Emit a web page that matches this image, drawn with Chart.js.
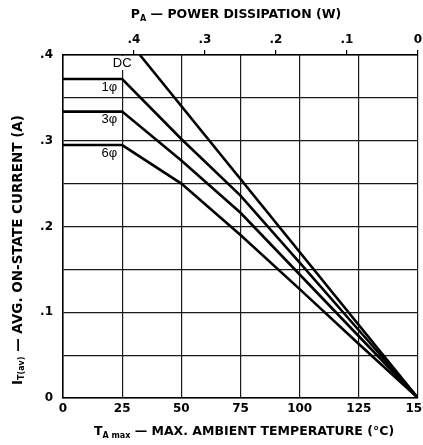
<!DOCTYPE html>
<html><head><meta charset="utf-8">
<script src="https://cdn.jsdelivr.net/npm/chart.js@4.4.1/dist/chart.umd.min.js"></script>
<style>html,body{margin:0;padding:0;background:#fff}#wrap{width:423px;height:445px}</style>
</head><body><div id="wrap"><canvas id="c" width="423" height="445"></canvas></div>
<script>
// ---- data ----
const seriesNames = ['DC', '1φ', '3φ', '6φ'];
const tempDC = [32.5, 150];
const currentDC = [0.4, 0];
const temps = [0, 25, 50, 75, 100, 125, 150];
const current1ph = [0.372, 0.372, 0.302, 0.236, 0.158, 0.079, 0];
const current3ph = [0.334, 0.334, 0.277, 0.216, 0.144, 0.072, 0];
const current6ph = [0.295, 0.295, 0.250, 0.190, 0.127, 0.063, 0];
const xTicks = [0, 25, 50, 75, 100, 125, 150];
const yTicks = [0, 0.05, 0.1, 0.15, 0.2, 0.25, 0.3, 0.35, 0.4];
const yTickLabels = ['0', '', '.1', '', '.2', '', '.3', '', '.4'];
const topTicks = [0.4, 0.3, 0.2, 0.1, 0];
const topTickLabels = ['.4', '.3', '.2', '.1', '0'];
const topTitle = [{t:'P'},{t:'A',sub:true},{t:' — POWER DISSIPATION (W)'}];
const xTitle = [{t:'T'},{t:'A max',sub:true},{t:' — MAX. AMBIENT TEMPERATURE (°C)'}];
const yTitle = [{t:'I'},{t:'T(av)',sub:true},{t:' — AVG. ON-STATE CURRENT (A)'}];

const FONT = '"DejaVu Sans", "Liberation Sans", sans-serif';
const LFONT = '"Liberation Sans", Arial, sans-serif';
const pts = (xs, ys) => xs.map((x, i) => ({x, y: ys[i]}));
const seriesData = [pts(tempDC, currentDC), pts(temps, current1ph), pts(temps, current3ph), pts(temps, current6ph)];

function drawRich(ctx, segs, x, y, rot, size) {
  ctx.save();
  ctx.translate(x, y);
  ctx.rotate(rot);
  const main = 'bold ' + size + 'px ' + FONT, sub = 'bold ' + Math.round(size * 0.6) + 'px ' + FONT;
  let w = 0;
  segs.forEach(s => { ctx.font = s.sub ? sub : main; w += ctx.measureText(s.t).width; });
  let cx = -w / 2;
  ctx.textBaseline = 'middle';
  ctx.textAlign = 'left';
  ctx.fillStyle = '#000';
  segs.forEach(s => {
    ctx.font = s.sub ? sub : main;
    ctx.fillText(s.t, cx, s.sub ? 4 : 0);
    cx += ctx.measureText(s.t).width;
  });
  ctx.restore();
}

const labelPlugin = {
  id: 'labels',
  afterDraw(chart) {
    const ctx = chart.ctx;
    const xs = chart.scales.x, ys = chart.scales.y;
    const x25 = xs.getPixelForValue(25);
    ctx.save();
    ctx.font = '13px ' + LFONT;
    ctx.textBaseline = 'middle';
    const dcY = ys.getPixelForValue(currentDC[0]) + 8;
    const w = ctx.measureText(seriesNames[0]).width;
    ctx.fillStyle = '#fff';
    ctx.fillRect(x25 - w / 2 - 2, dcY - 7, w + 4, 14);
    ctx.fillStyle = '#000';
    ctx.textAlign = 'center';
    ctx.fillText(seriesNames[0], x25, dcY);
    ctx.textAlign = 'right';
    [current1ph, current3ph, current6ph].forEach((arr, i) => {
      ctx.fillText(seriesNames[i + 1], x25 - 5, ys.getPixelForValue(arr[0]) + 8);
    });
    ctx.restore();
    drawRich(ctx, topTitle, 236, 15, 0, 12.5);
    drawRich(ctx, xTitle, 244, 432, 0, 12.5);
    drawRich(ctx, yTitle, 18, 250, -Math.PI / 2, 13.5);
  }
};

const gridCommon = {color: '#1a1a1a', lineWidth: 1.2, drawTicks: false, tickLength: 0};
const tickFont = {family: FONT, size: 12, weight: 'bold'};

new Chart(document.getElementById('c'), {
  type: 'line',
  data: {
    datasets: seriesData.map((d, i) => ({
      label: seriesNames[i],
      data: d,
      borderColor: '#000',
      borderWidth: 2.6,
      pointRadius: 0,
      tension: 0,
      fill: false,
      xAxisID: 'x',
      yAxisID: 'y'
    }))
  },
  options: {
    responsive: false,
    animation: false,
    devicePixelRatio: 1,
    layout: {padding: {left: 0, right: 5, top: 0, bottom: 0}},
    plugins: {legend: {display: false}, tooltip: {enabled: false}},
    scales: {
      x: {
        type: 'linear', position: 'bottom', min: 0, max: 150,
        afterBuildTicks: s => { s.ticks = xTicks.map(v => ({value: v})); },
        ticks: {color: '#000', font: tickFont, padding: 4, maxRotation: 0, autoSkip: false, callback: v => String(v)},
        grid: gridCommon,
        border: {color: '#000', width: 1.5},
        afterFit: s => { s.height = 47; s.paddingLeft = 0; s.paddingRight = 0; }
      },
      x2: {
        type: 'linear', position: 'top', min: 0, max: 0.5, reverse: true,
        afterBuildTicks: s => { s.ticks = topTicks.map(v => ({value: v})); },
        ticks: {color: '#000', font: tickFont, padding: 3, maxRotation: 0, autoSkip: false,
          callback: (v, i) => topTickLabels[i]},
        grid: {drawOnChartArea: false, color: '#000', lineWidth: 1.2, tickLength: 5},
        border: {color: '#000', width: 1.5},
        afterFit: s => { s.height = 55; s.paddingLeft = 0; s.paddingRight = 0; }
      },
      y: {
        type: 'linear', min: 0, max: 0.4,
        afterBuildTicks: s => { s.ticks = yTicks.map(v => ({value: v})); },
        ticks: {color: '#000', font: tickFont, padding: 10, autoSkip: false,
          callback: (v, i) => yTickLabels[i]},
        grid: gridCommon,
        border: {color: '#000', width: 1.5},
        afterFit: s => { s.width = 63; s.paddingTop = 0; s.paddingBottom = 0; }
      }
    }
  },
  plugins: [labelPlugin]
});
</script>
</body></html>
